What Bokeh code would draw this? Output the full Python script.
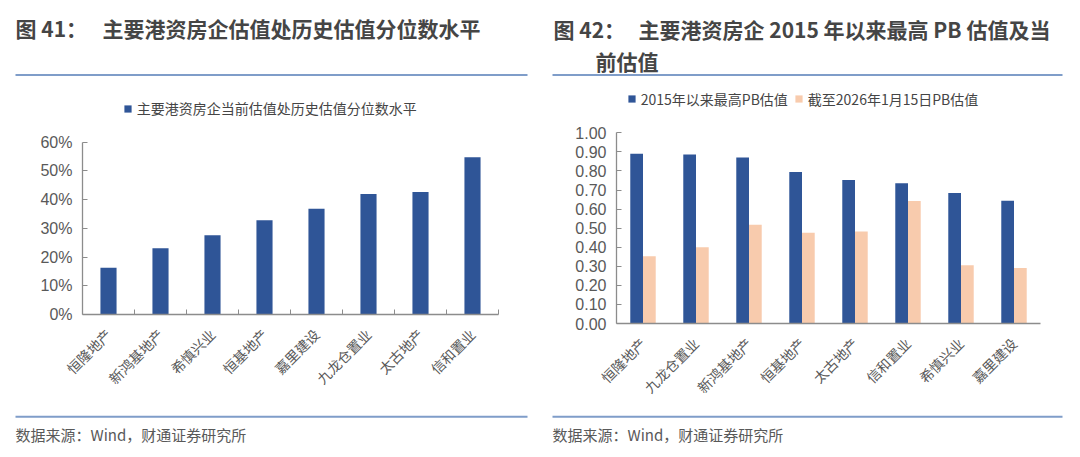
import math
from bokeh.plotting import figure
from bokeh.layouts import row, column
from bokeh.models import (Range1d, FixedTicker, Legend, LegendItem,
                          FactorRange, NumeralTickFormatter, ColumnDataSource)
from bokeh.transform import dodge
from bokeh.core.properties import value
from bokeh.embed import file_html
from bokeh.resources import INLINE

# ---------------- data ----------------
left_companies = ["恒隆地产", "新鸿基地产", "希慎兴业", "恒基地产", "嘉里建设", "九龙仓置业", "太古地产", "信和置业"]
left_percentile = [0.163, 0.231, 0.276, 0.328, 0.368, 0.420, 0.427, 0.548]
left_yticks = [0.0, 0.1, 0.2, 0.3, 0.4, 0.5, 0.6]
left_series = "主要港资房企当前估值处历史估值分位数水平"

right_companies = ["恒隆地产", "九龙仓置业", "新鸿基地产", "恒基地产", "太古地产", "信和置业", "希慎兴业", "嘉里建设"]
pb_max_since_2015 = [0.890, 0.886, 0.871, 0.794, 0.752, 0.735, 0.684, 0.644]
pb_current = [0.352, 0.400, 0.518, 0.476, 0.482, 0.642, 0.305, 0.291]
right_yticks = [0.0, 0.1, 0.2, 0.3, 0.4, 0.5, 0.6, 0.7, 0.8, 0.9, 1.0]
right_series = ["2015年以来最高PB估值", "截至2026年1月15日PB估值"]

left_title = ["图 41：", "主要港资房企估值处历史估值分位数水平"]
right_title = ["图 42：", "主要港资房企 2015 年以来最高 PB 估值及当", "前估值"]
source_text = "数据来源：Wind，财通证券研究所"

# ---------------- style / layout ----------------
BLUE = "#2F5597"
PEACH = "#F8CBAD"
AXIS = "#8C8C8C"
TXT = "#595959"
TITLE = "#454545"
RULE = "#7F9DC9"
CJK = "Noto Sans CJK SC"
NUM = "Liberation Sans"

PAGE_W, PAGE_H = 1080, 457
HALF_W = PAGE_W // 2
AXIS_BAND = 91       # space under each plot area for the slanted labels

# page geometry (pixels) of the two plot areas
L_left, L_right, L_zero, L_top_tick = 82, 498, 314, 141.7
R_left, R_right, R_zero, R_top_tick = 616, 1040, 323, 132.3
L_head_h, R_head_h = 82, 88

# header / footer positions (page pixels)
left_title_x, left_title_y = [15, 102], [27.5, 27.5]
right_title_x, right_title_y = [553, 638, 595], [28, 28, 60]
left_rule, right_rule = (15, 527), (552, 1062)
top_rule_y = 74.5
bottom_rule_y = 416.2
source_y = 434


def strip_fig(x0, width, y0, height):
    p = figure(width=width, height=height, output_backend="svg", toolbar_location=None,
               x_range=Range1d(x0, x0 + width), y_range=Range1d(y0 + height, y0),
               x_axis_type=None, y_axis_type=None, title=None,
               min_border=0, min_border_left=0, min_border_right=0,
               min_border_top=0, min_border_bottom=0)
    p.outline_line_color = None
    p.xgrid.visible = False
    p.ygrid.visible = False
    p.background_fill_color = "white"
    p.border_fill_color = "white"
    return p


def chart_fig(x_range, y_range, height, bl, br):
    p = figure(width=HALF_W, height=height, output_backend="svg", toolbar_location=None,
               x_range=x_range, y_range=y_range, title=None,
               min_border_left=bl, min_border_right=br, min_border_top=0,
               min_border_bottom=AXIS_BAND)
    p.outline_line_color = None
    p.xgrid.visible = False
    p.ygrid.visible = False
    p.background_fill_color = "white"
    p.border_fill_color = "white"
    return p


def style_axes(p, ymax):
    for ax in (p.xaxis[0], p.yaxis[0]):
        ax.axis_line_color = AXIS
        ax.axis_line_width = 1.3
        ax.major_tick_line_color = AXIS
        ax.minor_tick_line_color = AXIS
        ax.major_label_text_color = TXT
    ya = p.yaxis[0]
    ya.bounds = (0, ymax)
    ya.major_tick_in = 5
    ya.major_tick_out = 0
    ya.minor_tick_in = 0
    ya.minor_tick_out = 0
    ya.major_label_text_font = NUM
    ya.major_label_text_font_size = "16px"
    ya.major_label_standoff = 10
    xa = p.xaxis[0]
    xa.major_label_text_font = CJK
    xa.major_label_text_font_size = "14px"
    xa.major_label_orientation = math.pi / 4
    xa.major_tick_in = 0
    xa.major_tick_out = 0
    xa.major_label_standoff = 17


def make_legend(items, loc):
    return Legend(items=items, location=loc, orientation="horizontal",
                  glyph_width=9, glyph_height=9, label_standoff=5, spacing=6,
                  padding=0, margin=0, label_height=16,
                  border_line_color=None, background_fill_alpha=0,
                  label_text_font=CJK, label_text_font_size="14px", label_text_color=TITLE)


def header(x0, height, xs, ys, texts, rule):
    h = strip_fig(x0, HALF_W, 0, height)
    h.text(x=xs, y=ys, text=texts, text_font=value(CJK),
           text_font_size="21px", text_font_style="bold", text_color=TITLE,
           text_baseline="middle", text_align="left")
    h.segment(x0=[rule[0]], x1=[rule[1]], y0=[top_rule_y], y1=[top_rule_y],
              line_color=RULE, line_width=2)
    return h


def footer(x0, y0, rule):
    f = strip_fig(x0, HALF_W, y0, PAGE_H - y0)
    f.segment(x0=[rule[0]], x1=[rule[1]], y0=[bottom_rule_y], y1=[bottom_rule_y],
              line_color=RULE, line_width=2)
    f.text(x=[rule[0]], y=[source_y], text=[source_text], text_font=value(CJK),
           text_font_size="15px", text_color=TXT, text_baseline="middle", text_align="left")
    return f


# ---------------- left chart ----------------
n = len(left_companies)
xpos = [i + 0.5 for i in range(n)]
src1 = ColumnDataSource(dict(x=xpos, company=left_companies, value=left_percentile))
l_frame_h = L_zero - L_head_h
l_yend = left_yticks[-1] * l_frame_h / (L_zero - L_top_tick)
p1 = chart_fig(Range1d(0, n), Range1d(0, l_yend), l_frame_h + AXIS_BAND,
               L_left, HALF_W - L_right)
r1 = p1.vbar(x="x", top="value", width=0.31, source=src1, fill_color=BLUE, line_color=None)
style_axes(p1, left_yticks[-1])
p1.xaxis[0].ticker = FixedTicker(ticks=xpos, minor_ticks=[i + 1 for i in range(n)])
p1.xaxis[0].major_label_overrides = {x: c for x, c in zip(xpos, left_companies)}
p1.xaxis[0].minor_tick_in = 5
p1.xaxis[0].minor_tick_out = 0
p1.yaxis[0].ticker = FixedTicker(ticks=left_yticks, minor_ticks=[])
p1.yaxis[0].formatter = NumeralTickFormatter(format="0%")
p1.add_layout(make_legend([LegendItem(label=left_series, renderers=[r1])],
                          (122.7 - L_left, L_zero - 110 - 8)))

# ---------------- right chart ----------------
src2 = ColumnDataSource(dict(company=right_companies, pbmax=pb_max_since_2015, pbnow=pb_current))
r_frame_h = R_zero - R_head_h
r_yend = right_yticks[-1] * r_frame_h / (R_zero - R_top_tick)
p2 = chart_fig(FactorRange(*right_companies), Range1d(0, r_yend), r_frame_h + AXIS_BAND,
               R_left - HALF_W, PAGE_W - R_right)
rb = p2.vbar(x=dodge("company", -0.12, range=p2.x_range), top="pbmax", width=0.24,
             source=src2, fill_color=BLUE, line_color=None)
ro = p2.vbar(x=dodge("company", 0.12, range=p2.x_range), top="pbnow", width=0.24,
             source=src2, fill_color=PEACH, line_color=None)
style_axes(p2, right_yticks[-1])
p2.yaxis[0].ticker = FixedTicker(ticks=right_yticks, minor_ticks=[])
p2.yaxis[0].formatter = NumeralTickFormatter(format="0.00")
p2.add_layout(make_legend([LegendItem(label=right_series[0], renderers=[rb]),
                           LegendItem(label=right_series[1], renderers=[ro])],
                          (626.7 - R_left, R_zero - 100.5 - 8)))

# ---------------- assemble ----------------
# each chart is wrapped in its own row so that its frame is not aligned with the strips
left_col = column(header(0, L_head_h, left_title_x, left_title_y, left_title, left_rule),
                  row(p1), footer(0, L_zero + AXIS_BAND, left_rule), spacing=0)
right_col = column(header(HALF_W, R_head_h, right_title_x, right_title_y, right_title, right_rule),
                   row(p2), footer(HALF_W, R_zero + AXIS_BAND, right_rule), spacing=0)
layout = row(left_col, right_col, spacing=0)
open("out.html", "w").write(file_html(layout, INLINE))
